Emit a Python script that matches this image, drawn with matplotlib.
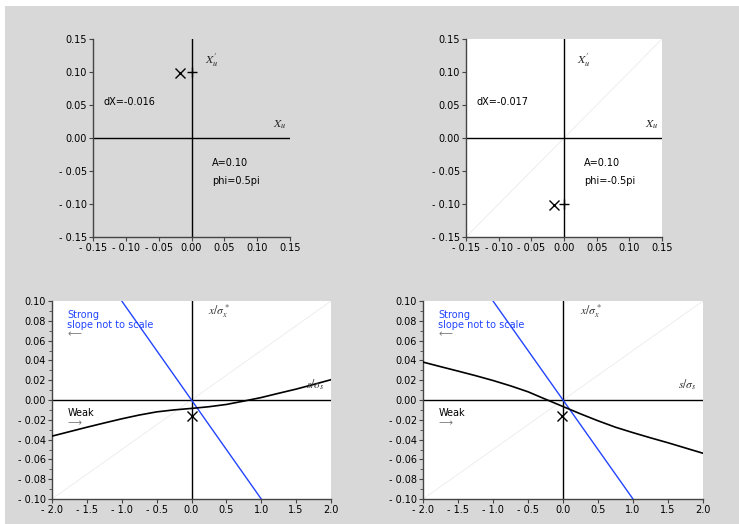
import matplotlib
matplotlib.use('Agg')
import matplotlib.pyplot as plt
from matplotlib.patches import Rectangle
from matplotlib.ticker import MultipleLocator

plt.rcParams['font.family'] = ['DejaVu Sans']
plt.rcParams['mathtext.fontset'] = 'stix'

# ---------------- data ----------------
top_ticks = [-0.15, -0.10, -0.05, 0.00, 0.05, 0.10, 0.15]
top_ticklabels = ['- 0.15', '- 0.10', '- 0.05', '0.00', '0.05', '0.10', '0.15']

bot_xticks = [-2.0, -1.5, -1.0, -0.5, 0.0, 0.5, 1.0, 1.5, 2.0]
bot_xticklabels = ['- 2.0', '- 1.5', '- 1.0', '- 0.5', '0.0', '0.5', '1.0', '1.5', '2.0']
bot_yticks = [-0.10, -0.08, -0.06, -0.04, -0.02, 0.00, 0.02, 0.04, 0.06, 0.08, 0.10]
bot_yticklabels = ['- 0.10', '- 0.08', '- 0.06', '- 0.04', '- 0.02', '0.00',
                   '0.02', '0.04', '0.06', '0.08', '0.10']

# top panels: target point (+) and shifted point (x)
tl_plus = (0.0, 0.10)
tl_cross = (-0.017, 0.099)
tr_plus = (0.0, -0.10)
tr_cross = (-0.016, -0.101)
tl_texts = ['dX=-0.016', 'A=0.10', 'phi=0.5pi']
tr_texts = ['dX=-0.017', 'A=0.10', 'phi=-0.5pi']

# bottom panels
strong_x = [-1.0, 1.0]
strong_y = [0.10, -0.10]

bl_curve_x = [-2.0, -1.75, -1.5, -1.25, -1.0, -0.75, -0.5, -0.25, 0.0,
              0.25, 0.5, 0.75, 1.0, 1.25, 1.5, 1.75, 2.0]
bl_curve_y = [-0.0365, -0.0320, -0.0275, -0.0232, -0.0190, -0.0152, -0.0120, -0.0100, -0.0085,
              -0.0068, -0.0045, -0.0011, 0.0025, 0.0068, 0.0110, 0.0157, 0.0205]
bl_cross = (0.0, -0.016)

br_curve_x = [-2.0, -1.75, -1.5, -1.25, -1.0, -0.75, -0.5, -0.25, 0.0,
              0.25, 0.5, 0.75, 1.0, 1.25, 1.5, 1.75, 2.0]
br_curve_y = [0.0383, 0.0337, 0.0292, 0.0246, 0.0197, 0.0143, 0.0083, 0.0008, -0.0066,
              -0.0140, -0.0210, -0.0275, -0.0330, -0.0382, -0.0432, -0.0485, -0.0538]
br_cross = (-0.01, -0.016)

BLUE = '#2244ff'
BG = '#d8d8d8'
FS = 7

W, H = 739, 524
fig = plt.figure(figsize=(W / 100, H / 100), dpi=100, facecolor='white')
fig.patches.append(Rectangle((5 / W, 0), 1 - 5 / W, 1 - 6 / H, transform=fig.transFigure,
                             facecolor=BG, edgecolor='none', zorder=-10))


def px_axes(x0, y0, x1, y1):
    return fig.add_axes([x0 / W, 1 - y1 / H, (x1 - x0) / W, (y1 - y0) / H])


def style(ax, white):
    ax.set_facecolor('white' if white else 'none')
    for s in ['top', 'right']:
        ax.spines[s].set_visible(False)
    for s in ['left', 'bottom']:
        ax.spines[s].set_color('#444444')
        ax.spines[s].set_linewidth(1.0)
    ax.tick_params(direction='out', length=3, width=0.8, labelsize=FS, pad=1.5,
                   color='#444444')
    ax.tick_params(which='minor', direction='out', length=2, width=0.6, color='#444444')
    ax.axhline(0, color='black', lw=1.0, zorder=2)
    ax.axvline(0, color='black', lw=1.0, zorder=2)


def top_panel(ax, white, plus, cross, texts, diag):
    style(ax, white)
    ax.set_xlim(-0.15, 0.15)
    ax.set_ylim(-0.15, 0.15)
    ax.set_xticks(top_ticks)
    ax.set_xticklabels(top_ticklabels)
    ax.set_yticks(top_ticks)
    ax.set_yticklabels(top_ticklabels)
    if diag:
        ax.plot([0, 1], [0, 1], transform=ax.transAxes, color='#ebebeb', lw=0.6, zorder=1)
    ax.plot([plus[0]], [plus[1]], marker='+', ms=7.5, mew=1.0, color='black', ls='none', zorder=3)
    ax.plot([cross[0]], [cross[1]], marker='x', ms=7.5, mew=1.0, color='black', ls='none', zorder=3)
    ax.text(0.124, 0.020, r'$X_u$', fontsize=8.5, va='center', ha='left', color='#222222')
    ax.text(0.020, 0.118, r"$X_u^{\prime}$", fontsize=8.5, va='center', ha='left', color='#222222')
    ax.text(-0.134, 0.054, texts[0], fontsize=FS, va='center', ha='left')
    ax.text(0.031, -0.038, texts[1], fontsize=FS, va='center', ha='left')
    ax.text(0.031, -0.065, texts[2], fontsize=FS, va='center', ha='left')


def bottom_panel(ax, cx, cy, cross, sy):
    style(ax, True)
    ax.set_xlim(-2.0, 2.0)
    ax.set_ylim(-0.10, 0.10)
    ax.set_xticks(bot_xticks)
    ax.set_xticklabels(bot_xticklabels)
    ax.set_yticks(bot_yticks)
    ax.set_yticklabels(bot_yticklabels)
    ax.yaxis.set_minor_locator(MultipleLocator(0.01))
    ax.plot([0, 1], [0, 1], transform=ax.transAxes, color='#ebebeb', lw=0.6, zorder=1)
    ax.plot(strong_x, strong_y, color=BLUE, lw=1.0, zorder=3)
    ax.plot(cx, cy, color='black', lw=1.2, zorder=3)
    ax.plot([cross[0]], [cross[1]], marker='x', ms=7, mew=1.0, color='black', ls='none', zorder=4)
    ax.text(-1.78, 0.0860, 'Strong', color=BLUE, fontsize=FS, va='center', ha='left')
    ax.text(-1.78, 0.0760, 'slope not to scale', color=BLUE, fontsize=FS, va='center', ha='left')
    ax.text(-1.78, 0.0660, '\u27f5', color='#777777', fontsize=FS, va='center', ha='left')
    ax.text(-1.78, -0.0135, 'Weak', color='black', fontsize=FS, va='center', ha='left')
    ax.text(-1.78, -0.0235, '\u27f6', color='#777777', fontsize=FS, va='center', ha='left')
    ax.text(0.24, 0.090, r'$x/\sigma_x^*$', fontsize=8.5, va='center', ha='left', color='#333333')
    ax.text(1.64, sy, r'$s/\sigma_s$', fontsize=8.5, va='center', ha='left', color='#333333')


ax_tl = px_axes(93, 39, 290, 237)
top_panel(ax_tl, False, tl_plus, tl_cross, tl_texts, False)
ax_tr = px_axes(466, 39, 662, 237)
top_panel(ax_tr, True, tr_plus, tr_cross, tr_texts, True)

ax_bl = px_axes(52, 301, 331, 499)
bottom_panel(ax_bl, bl_curve_x, bl_curve_y, bl_cross, 0.015)
ax_br = px_axes(423, 301, 703, 499)
bottom_panel(ax_br, br_curve_x, br_curve_y, br_cross, 0.0155)

fig.savefig('out.png', dpi=100, facecolor=fig.get_facecolor())
